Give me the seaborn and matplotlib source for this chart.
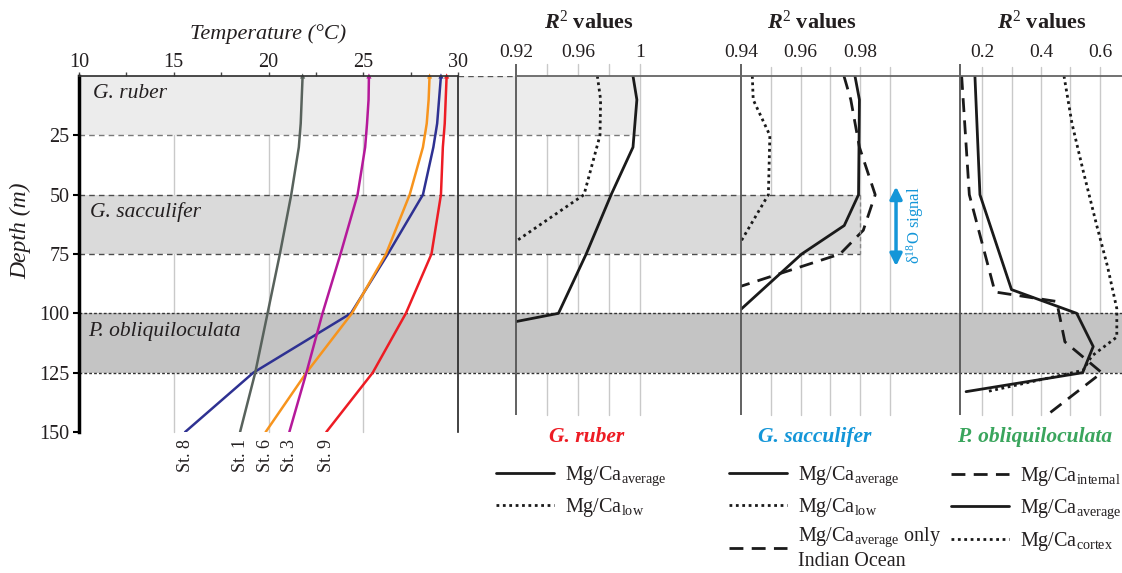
import pandas as pd
import seaborn as sns
import matplotlib.pyplot as plt
from matplotlib.lines import Line2D
from matplotlib.transforms import blended_transform_factory

# temperature profiles at the stations
depth_t = [0, 10, 20, 30, 50, 75, 100, 125, 150]
temp_st8 = [29.1, 29.0, 28.9, 28.7, 28.15, 26.3, 24.35, 19.2, 15.6]
temp_st1 = [21.8, 21.75, 21.7, 21.6, 21.2, 20.6, 19.95, 19.3, 18.5]
temp_st6 = [28.5, 28.45, 28.35, 28.15, 27.45, 26.2, 24.4, 22.0, 19.85]
temp_st3 = [25.3, 25.28, 25.2, 25.1, 24.7, 23.8, 22.85, 22.0, 21.1]
temp_st9 = [29.4, 29.35, 29.3, 29.2, 29.1, 28.6, 27.25, 25.5, 23.05]
stations = ['St. 8', 'St. 1', 'St. 6', 'St. 3', 'St. 9']
st_colors = ['#2e3192', '#58625c', '#f7941d', '#b5199a', '#ed1c24']

# R2 values vs depth - G. ruber
ruber_avg_depth = [0, 10, 30, 50, 75, 100, 125]
ruber_avg_r2 = [0.9955, 0.998, 0.9955, 0.9814, 0.9653, 0.9474, 0.75]
ruber_low_depth = [0, 10, 25, 50, 75]
ruber_low_r2 = [0.9725, 0.9746, 0.9742, 0.9639, 0.908]

# G. sacculifer
sacc_avg_depth = [0, 10, 50, 63, 75, 100]
sacc_avg_r2 = [0.9783, 0.9798, 0.9795, 0.9747, 0.9604, 0.9385]
sacc_low_depth = [0, 10, 25, 50, 75]
sacc_low_r2 = [0.9438, 0.9441, 0.9497, 0.9492, 0.9375]
sacc_io_depth = [0, 10, 30, 50, 65, 75, 100]
sacc_io_r2 = [0.9746, 0.9769, 0.9798, 0.9851, 0.9811, 0.9733, 0.912]

# P. obliquiloculata
pobl_int_depth = [0, 50, 91, 95, 112, 125, 143]
pobl_int_r2 = [0.131, 0.157, 0.244, 0.453, 0.481, 0.606, 0.419]
pobl_avg_depth = [0, 50, 90, 100, 114, 125, 133]
pobl_avg_r2 = [0.176, 0.193, 0.300, 0.521, 0.577, 0.541, 0.146]
pobl_cor_depth = [0, 20, 40, 63, 80, 98, 110, 118, 124, 133]
pobl_cor_r2 = [0.478, 0.505, 0.543, 0.589, 0.625, 0.657, 0.657, 0.572, 0.543, 0.216]

# calcification depth habitats
band_tops = [0, 50, 100]
band_bots = [25, 75, 125]
band_names = ['G. ruber', 'G. sacculifer', 'P. obliquiloculata']
band_colors = ['#ececec', '#dadada', '#c4c4c4']

sns.set_theme(style='white')
plt.rcParams['font.family'] = ['Liberation Serif', 'DejaVu Serif']
plt.rcParams['mathtext.fontset'] = 'custom'
plt.rcParams['mathtext.rm'] = 'Liberation Serif'
plt.rcParams['mathtext.it'] = 'Liberation Serif:italic'
plt.rcParams['mathtext.bf'] = 'Liberation Serif:bold:italic'
txt = '#231f20'

W, H = 1122, 573
fig = plt.figure(figsize=(W / 100, H / 100), dpi=100)


def box(x0, x1, y0=76, y1=432):
    ax = fig.add_axes([x0 / W, 1 - y1 / H, (x1 - x0) / W, (y1 - y0) / H])
    ax.patch.set_visible(False)
    for s in ax.spines.values():
        s.set_visible(False)
    return ax


bg = box(79, 1122)
axL = box(79, 458)
axA = box(516, 741)
axB = box(741, 960)
axC = box(960, 1122)

# temperature panel
temp_df = pd.DataFrame({
    'depth': depth_t * 5,
    'temp': temp_st8 + temp_st1 + temp_st6 + temp_st3 + temp_st9,
    'station': [s for s in stations for _ in depth_t],
})
pal = dict(zip(stations, st_colors))
sns.lineplot(data=temp_df, x='temp', y='depth', hue='station', palette=pal,
             sort=False, estimator=None, lw=1.8, legend=False, ax=axL)
sns.scatterplot(data=temp_df[temp_df.depth == 0], x='temp', y='depth', hue='station',
                palette=pal, marker='^', s=14, linewidth=0, legend=False, ax=axL, clip_on=False)

# R2 panels
solid = dict(color='#1a1a1a', lw=2)
dotted = dict(color='#1a1a1a', lw=2, linestyle=(0, (1, 1.3)))
dashed = dict(color='#1a1a1a', lw=2, linestyle=(0, (5, 3)))
sns.lineplot(x=ruber_avg_r2, y=ruber_avg_depth, sort=False, estimator=None, ax=axA, **solid)
sns.lineplot(x=ruber_low_r2, y=ruber_low_depth, sort=False, estimator=None, ax=axA, **dotted)
sns.lineplot(x=sacc_avg_r2, y=sacc_avg_depth, sort=False, estimator=None, ax=axB, **solid)
sns.lineplot(x=sacc_low_r2, y=sacc_low_depth, sort=False, estimator=None, ax=axB, **dotted)
sns.lineplot(x=sacc_io_r2, y=sacc_io_depth, sort=False, estimator=None, ax=axB, **dashed)
sns.lineplot(x=pobl_int_r2, y=pobl_int_depth, sort=False, estimator=None, ax=axC, **dashed)
sns.lineplot(x=pobl_avg_r2, y=pobl_avg_depth, sort=False, estimator=None, ax=axC, **solid)
sns.lineplot(x=pobl_cor_r2, y=pobl_cor_depth, sort=False, estimator=None, ax=axC, **dotted)

for ax in (bg, axL, axA, axB, axC):
    ax.set_ylim(150, 0)
    ax.set_xlabel('')
    ax.set_ylabel('')
bg.set_xlim(0, 1)
bg.set_xticks([])
bg.set_yticks([])
axL.set_xlim(10, 30)
axA.set_xlim(0.92, 1.0652)
axB.set_xlim(0.94, 1.0136)
axC.set_xlim(0.1254, 0.6746)


def bgx(ax, x):
    px = ax.transData.transform((x, 0))[0]
    return bg.transAxes.inverted().transform((px, 0))[0]


def vgrid(ax, xs, top, bottom):
    tr = blended_transform_factory(ax.transData, bg.transData)
    for x in xs:
        bg.add_line(Line2D([x, x], [top, bottom], transform=tr, color='#c9c9c9',
                           lw=1, zorder=1, clip_on=False))


vgrid(axL, [15, 20, 25], 0, 150)
vgrid(axA, [0.94, 0.96, 0.98, 1.0], -5, 143)
vgrid(axB, [0.95, 0.96, 0.97, 0.98, 0.99], -4, 143)
vgrid(axC, [0.2, 0.3, 0.4, 0.5, 0.6], -4, 143)

# habitat bands
band_end = [bgx(axA, 1.0), bgx(axB, 0.98), 1.0]
edge_style = [('#7a7a7a', (0, (4, 3))), ('#4d4d4d', (0, (4, 3))), ('#333333', (0, (2, 1.5)))]
for top, bot, col, end, (ec, ls) in zip(band_tops, band_bots, band_colors, band_end, edge_style):
    bg.axhspan(top, bot, 0, end, color=col, lw=0, zorder=2)
    for y in (top, bot):
        if y > 0:
            bg.axhline(y, 0, end, color=ec, ls=ls, lw=1, zorder=3)
bg.axhline(0, bgx(axL, 30), bgx(axA, 0.92), color='#555555', ls=(0, (4, 3)), lw=1, zorder=3)
axB.vlines(0.98, 50, 75, colors='#888888', linestyles=(0, (3, 2)), lw=1)

for name, top, x in zip(band_names, band_tops, [10.74, 10.58, 10.47]):
    axL.text(x, top + 7.5, name, style='italic', fontsize=15.5, va='center', color=txt)

# temperature axis styling
axL.spines['left'].set_visible(True)
axL.spines['left'].set_color('black')
axL.spines['left'].set_linewidth(2.5)
axL.spines['top'].set_visible(True)
axL.spines['top'].set_color('#333333')
axL.spines['right'].set_visible(True)
axL.spines['right'].set_color('#222222')
axL.spines['right'].set_linewidth(1.2)
axL.set_yticks([25, 50, 75, 100, 125, 150])
axL.tick_params(axis='y', left=True, length=4, width=1.5, color='black',
                labelsize=14.5, pad=3, labelcolor=txt)
axL.xaxis.tick_top()
axL.set_xticks([10, 15, 20, 25, 30])
axL.set_xticks([12.5, 17.5, 22.5, 27.5], minor=True)
axL.tick_params(axis='x', which='both', top=True, bottom=False, length=3, width=1,
                color='#444444', labelsize=14.5, pad=0, labelcolor=txt)
axL.xaxis.set_label_position('top')
axL.set_xlabel('Temperature (°C)', style='italic', fontsize=16, labelpad=10, color=txt)
axL.set_ylabel('Depth (m)', style='italic', fontsize=17, color=txt)
axL.yaxis.set_label_coords(-0.127, 0.565)

for s, temps in zip(stations, [temp_st8, temp_st1, temp_st6, temp_st3, temp_st9]):
    axL.text(temps[-1], 153, s, rotation=90, ha='center', va='top', fontsize=13,
             color=txt, clip_on=False)

# R2 axes styling
panels = [
    (axA, [0.92, 0.96, 1.0], ['0.92', '0.96', '1'], 589),
    (axB, [0.94, 0.96, 0.98], ['0.94', '0.96', '0.98'], 812),
    (axC, [0.2, 0.4, 0.6], ['0.2', '0.4', '0.6'], 1042),
]
for ax, ticks, labels, tx in panels:
    ax.spines['top'].set_visible(True)
    ax.spines['top'].set_color('#666666')
    ax.spines['top'].set_linewidth(1.3)
    ax.vlines(ax.get_xlim()[0], -5, 143, colors='#555555', lw=1.3, clip_on=False)
    ax.xaxis.tick_top()
    ax.set_xticks(ticks, labels)
    ax.tick_params(axis='x', top=True, bottom=False, length=0, labelsize=14, pad=10.5,
                   labelcolor=txt)
    ax.set_yticks([])
    fig.text(tx / W, 1 - 22 / H, r'$\mathbf{R}^{2}$ values', ha='center', va='center',
             fontsize=16, fontweight='bold', color=txt)

# d18O signal arrow
axB.annotate('', xy=(0.9921, 46.6), xytext=(0.9921, 80.1),
             arrowprops=dict(arrowstyle='<|-|>', color='#1496d8', lw=2.5,
                             mutation_scale=18, shrinkA=0, shrinkB=0))
axB.text(0.9985, 63, r'δ$^{\mathrm{18}}$O signal', rotation=90, ha='center', va='center',
         color='#1496d8', fontsize=12)

# legends
avg_lab = r'Mg/Ca$_{\mathrm{average}}$'
legends = [
    ('G. ruber', '#ed1c24', 587, 496, [solid, dotted],
     [avg_lab, r'Mg/Ca$_{\mathrm{low}}$'], 0.35),
    ('G. sacculifer', '#1496d8', 815, 729, [solid, dotted, dashed],
     [avg_lab, r'Mg/Ca$_{\mathrm{low}}$', avg_lab + ' only\nIndian Ocean'], 0.35),
    ('P. obliquiloculata', '#3aa55d', 1035, 951, [dashed, solid, dotted],
     [r'Mg/Ca$_{\mathrm{internal}}$', avg_lab, r'Mg/Ca$_{\mathrm{cortex}}$'], 0.45),
]
for title, col, tx, lx, styles, labels, sp in legends:
    fig.text(tx / W, 1 - 437 / H, title, color=col, fontsize=15.5, fontweight='bold',
             style='italic', ha='center', va='center')
    handles = [Line2D([], [], **st) for st in styles]
    fig.legend(handles, labels, loc='upper left', bbox_to_anchor=(lx / W, 1 - 465 / H),
               frameon=False, fontsize=14.5, handlelength=2.9, handletextpad=0.55,
               labelspacing=sp, borderpad=0, borderaxespad=0, labelcolor=txt)

fig.savefig('out.png', dpi=100)
